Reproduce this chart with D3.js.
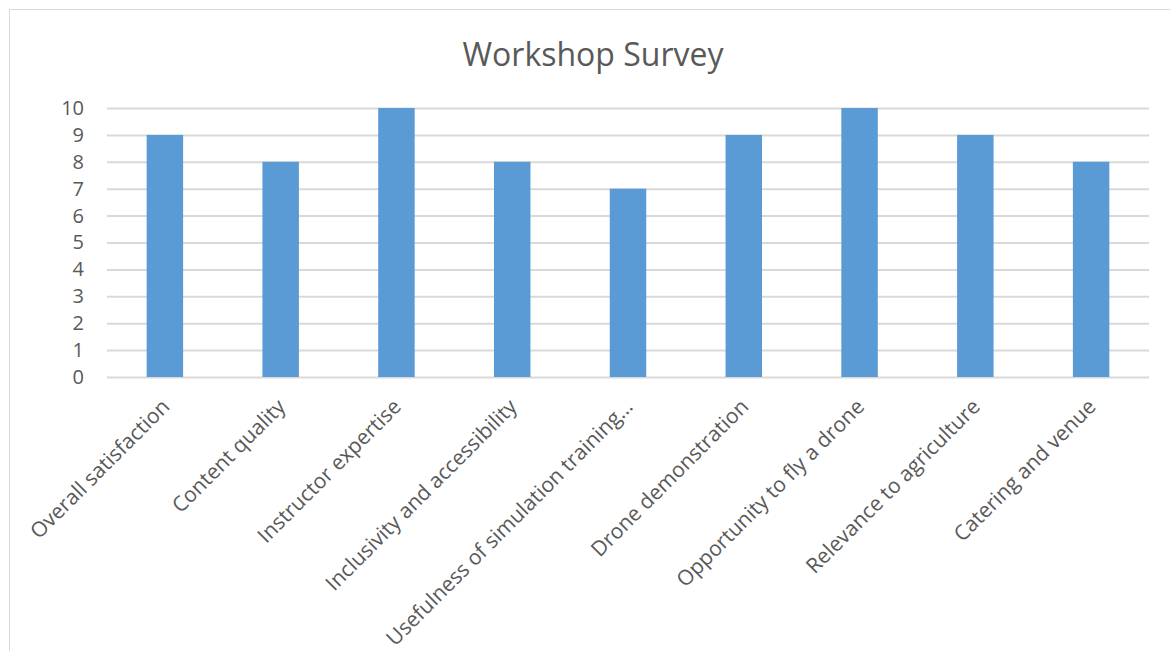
<!DOCTYPE html>
<html><head><meta charset="utf-8">
<script src="https://cdn.jsdelivr.net/npm/d3@7"></script>
<style>
html,body{margin:0;padding:0;background:#fff;}
svg{display:block;font-family:"Open Sans","Noto Sans",sans-serif;}
</style></head>
<body><svg id="chart" width="1170" height="651"></svg>
<script>
const title = "Workshop Survey";
const categories = ["Overall satisfaction","Content quality","Instructor expertise","Inclusivity and accessibility","Usefulness of simulation training…","Drone demonstration","Opportunity to fly a drone","Relevance to agriculture","Catering and venue"];
const values = [9,8,10,8,7,9,10,9,8];
const yTicks = [0,1,2,3,4,5,6,7,8,9,10];

const svg = d3.select("#chart");
const W = 1170, H = 651;
const m = {left:107, right:21, top:108, bottom:274};
const x0 = m.left, x1 = W - m.right, y0 = H - m.bottom, y1 = m.top;

svg.append("rect").attr("x",9.5).attr("y",9.5).attr("width",1170).attr("height",660)
  .attr("fill","#fff").attr("stroke","#d9d9d9").attr("stroke-width",1);

const x = d3.scaleBand().domain(categories).range([x0,x1]).paddingInner(0.685).paddingOuter(0.3425);
const y = d3.scaleLinear().domain([0,10]).range([y0,y1]);

svg.append("text").attr("x",593).attr("y",66).attr("text-anchor","middle")
  .attr("font-size",32).attr("fill","#595959").text(title);

const yAxis = svg.append("g").attr("transform",`translate(${x0},0)`)
  .call(d3.axisLeft(y).tickValues(yTicks).tickSize(-(x1-x0)).tickPadding(23));
yAxis.select(".domain").remove();
yAxis.selectAll(".tick line").attr("stroke","#d9d9d9").attr("stroke-width",2);
yAxis.selectAll(".tick text").attr("font-size",20).attr("fill","#595959").attr("font-family","Open Sans, sans-serif");

svg.append("g").selectAll("rect").data(values).join("rect")
  .attr("x",(d,i)=>x(categories[i])).attr("width",x.bandwidth())
  .attr("y",d=>y(d)).attr("height",d=>y(0)-y(d)).attr("fill","#5b9bd5");

const xAxis = svg.append("g").attr("transform",`translate(0,${y0})`)
  .call(d3.axisBottom(x).tickSize(0).tickPadding(0));
xAxis.select(".domain").remove();
xAxis.selectAll(".tick text").attr("font-size",21).attr("fill","#595959")
  .attr("font-family","Open Sans, sans-serif")
  .attr("text-anchor","end").attr("dy",0)
  .attr("transform","translate(6,31) rotate(-45)");
</script></body></html>
